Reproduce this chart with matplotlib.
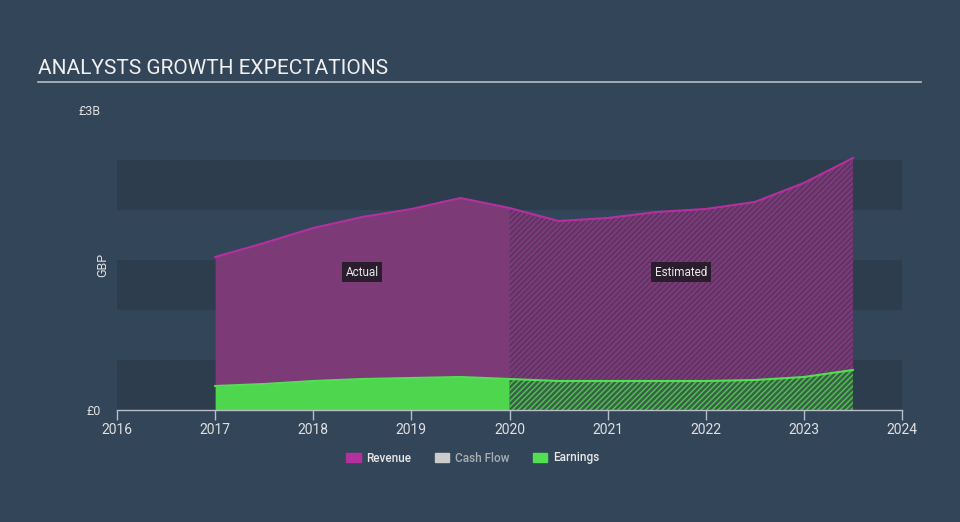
import matplotlib
matplotlib.use('agg')
import matplotlib.pyplot as plt
import matplotlib.patches as patches

plt.rcParams['font.family'] = ['Roboto', 'DejaVu Sans']
plt.rcParams['hatch.linewidth'] = 1.1

# Revenue and earnings (GBP), actual up to 2020 then estimates
years = [2017.0, 2017.5, 2018.0, 2018.5, 2019.0, 2019.5, 2020.0,
         2020.5, 2021.0, 2021.5, 2022.0, 2022.5, 2023.0, 2023.5]
revenue = [1.53e9, 1.67e9, 1.82e9, 1.93e9, 2.01e9, 2.12e9, 2.02e9,
           1.89e9, 1.92e9, 1.98e9, 2.01e9, 2.08e9, 2.27e9, 2.52e9]
earnings = [0.24e9, 0.26e9, 0.29e9, 0.31e9, 0.32e9, 0.33e9, 0.31e9,
            0.29e9, 0.29e9, 0.29e9, 0.29e9, 0.30e9, 0.33e9, 0.40e9]
split_year = 2020.0
xticks = [2016, 2017, 2018, 2019, 2020, 2021, 2022, 2023, 2024]
legend_names = ['Revenue', 'Cash Flow', 'Earnings']

bg = '#334558'
band = '#2e3d4d'
rev_fill = '#7c3a77'
rev_line = '#b5309f'
earn_fill = '#4fd64f'
earn_line = '#52e052'

fig = plt.figure(figsize=(9.6, 5.22), dpi=100, facecolor=bg)
ax = fig.add_axes([117/960, 112/522, 785/960, 300/522])
ax.set_facecolor(bg)
ax.set_xlim(2016, 2024)
ax.set_ylim(0, 3e9)

# alternating background bands
for lo in [0, 1e9, 2e9]:
    ax.axhspan(lo, lo + 0.5e9, color=band, lw=0, zorder=0)

i = years.index(split_year)
# actual part (solid)
ax.fill_between(years[:i+1], earnings[:i+1], revenue[:i+1], color=rev_fill, lw=0, zorder=2)
ax.fill_between(years[:i+1], 0, earnings[:i+1], color=earn_fill, lw=0, zorder=2)
# estimated part (hatched)
ax.fill_between(years[i:], earnings[i:], revenue[i:], facecolor=rev_fill,
                edgecolor='#583462', hatch='//////', lw=0, zorder=2)
ax.fill_between(years[i:], 0, earnings[i:], facecolor='#3a5e48',
                edgecolor='#4cc04e', hatch='//////', lw=0, zorder=2)
ax.plot(years, revenue, color=rev_line, lw=1.5, zorder=3)
ax.plot(years, earnings, color=earn_line, lw=1.5, zorder=3)

box = dict(boxstyle='square,pad=0.3', fc='#2a1d2d', ec='none')
ax.text(2018.5, 1.38e9, 'Actual', color='#e8e8e8', fontsize=8.5,
        ha='center', va='center', bbox=box, zorder=4)
ax.text(2021.75, 1.38e9, 'Estimated', color='#e8e8e8', fontsize=8.5,
        ha='center', va='center', bbox=box, zorder=4)

for s in ['top', 'right', 'left']:
    ax.spines[s].set_visible(False)
ax.spines['bottom'].set_color('#b8bec6')
ax.spines['bottom'].set_linewidth(1)
ax.spines['bottom'].set_zorder(5)
ax.set_xticks(xticks)
ax.set_xticklabels([str(x) for x in xticks])
ax.tick_params(axis='x', colors='#b8bec6', length=7, width=1, direction='out',
               labelcolor='#e0e0e0', labelsize=10, pad=2)
ax.set_yticks([0, 3e9])
ax.set_yticklabels(['£0', '£3B'])
ax.tick_params(axis='y', length=0, labelcolor='#e0e0e0', labelsize=9, pad=11.5)

fig.text(103/960, 1 - 265/522, 'GBP', rotation=90, color='#e0e0e0',
         fontsize=9, ha='center', va='center')

# title and rule
fig.text(38/960, 1 - 68/522, 'ANALYSTS GROWTH EXPECTATIONS', color='#f0f0f0',
         fontsize=15, ha='left', va='center')
fig.add_artist(plt.Line2D([38/960, 921/960], [1 - 82/522, 1 - 82/522],
                          color='#b8bec6', lw=1.2))

# legend
handles = [patches.Patch(color=rev_line), patches.Patch(color='#cccccc'),
           patches.Patch(color=earn_line)]
leg = fig.legend(handles, legend_names, loc='center', bbox_to_anchor=(473/960, 1 - 458/522),
                 ncol=3, frameon=False, fontsize=8.5, handlelength=1.2,
                 handleheight=0.9, columnspacing=2.0, handletextpad=0.5)
for t, c in zip(leg.get_texts(), ['#e8e8e8', '#a8adb3', '#e8e8e8']):
    t.set_color(c)
    t.set_fontweight('medium')

fig.savefig('out.png', dpi=100, facecolor=bg)
